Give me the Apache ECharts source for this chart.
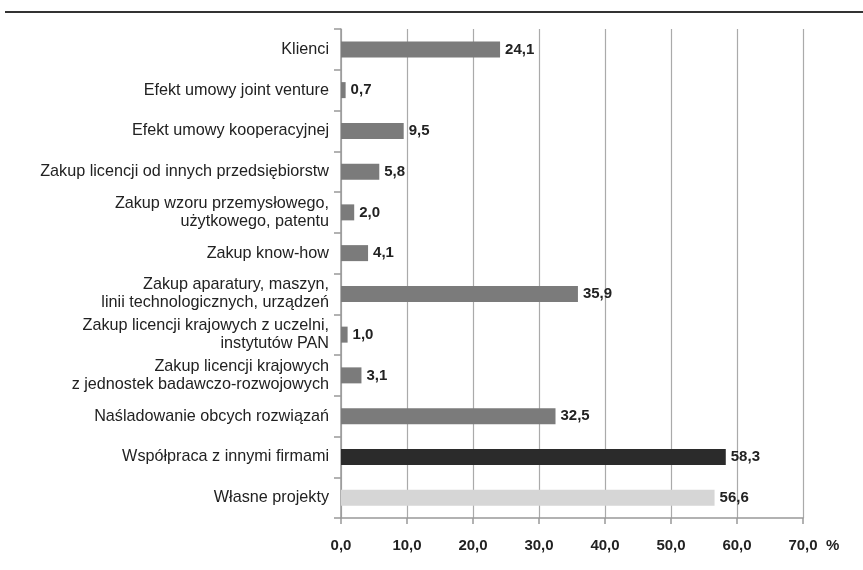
<!DOCTYPE html>
<html>
<head>
<meta charset="utf-8">
<script src="https://cdn.jsdelivr.net/npm/echarts@6/dist/echarts.min.js"></script>
<style>
  html, body { margin: 0; padding: 0; background: #fff; }
  #chart { width: 863px; height: 570px; }
</style>
</head>
<body>
<div id="chart"></div>
<script>
// Źródła innowacji – odsetek przedsiębiorstw (%)
const categories = [
  'Klienci',
  'Efekt umowy joint venture',
  'Efekt umowy kooperacyjnej',
  'Zakup licencji od innych przedsiębiorstw',
  'Zakup wzoru przemysłowego,\nużytkowego, patentu',
  'Zakup know-how',
  'Zakup aparatury, maszyn,\nlinii technologicznych, urządzeń',
  'Zakup licencji krajowych z uczelni,\ninstytutów PAN',
  'Zakup licencji krajowych\nz jednostek badawczo-rozwojowych',
  'Naśladowanie obcych rozwiązań',
  'Współpraca z innymi firmami',
  'Własne projekty'
];
const values = [24.1, 0.7, 9.5, 5.8, 2.0, 4.1, 35.9, 1.0, 3.1, 32.5, 58.3, 56.6];
const barColors = ['#7b7b7b', '#7b7b7b', '#7b7b7b', '#7b7b7b', '#7b7b7b', '#7b7b7b',
                   '#7b7b7b', '#7b7b7b', '#7b7b7b', '#7b7b7b', '#2b2b2b', '#d6d6d6'];
const xTicks = { min: 0, max: 70, interval: 10 };

const fmt = v => v.toFixed(1).replace('.', ',');
const font = '"Liberation Sans", Arial, Helvetica, sans-serif';

const chart = echarts.init(document.getElementById('chart'));
chart.setOption({
  animation: false,
  backgroundColor: '#fff',
  grid: { left: 341, right: 60, top: 29, bottom: 52 },
  graphic: [{
    type: 'line',
    shape: { x1: 5, y1: 12, x2: 863, y2: 12 },
    style: { stroke: '#333', lineWidth: 2 }
  }],
  xAxis: {
    type: 'value',
    min: xTicks.min, max: xTicks.max, interval: xTicks.interval,
    name: '%',
    nameLocation: 'end',
    nameGap: 23,
    nameTextStyle: { color: '#222', fontFamily: font, fontSize: 15, fontWeight: 'bold',
                     verticalAlign: 'top', padding: [20, 0, 0, 0] },
    axisLine: { show: true, lineStyle: { color: '#999', width: 1.5 } },
    axisTick: { show: true, length: 6, lineStyle: { color: '#999', width: 1.5 } },
    axisLabel: { margin: 20, color: '#222', fontFamily: font, fontSize: 15, fontWeight: 'bold',
                 formatter: v => fmt(v) },
    splitLine: { show: true, lineStyle: { color: '#aaa', width: 1.2 } }
  },
  yAxis: {
    type: 'category',
    inverse: true,
    data: categories,
    axisLine: { show: true, lineStyle: { color: '#999', width: 1.5 } },
    axisTick: { show: true, length: 7, lineStyle: { color: '#999', width: 1.5 } },
    axisLabel: { margin: 12, color: '#222', fontFamily: font, fontSize: 16.2, lineHeight: 18, align: 'right' }
  },
  series: [{
    type: 'bar',
    barWidth: 16,
    data: values.map((v, i) => ({ value: v, itemStyle: { color: barColors[i] } })),
    label: {
      show: true,
      position: 'right',
      distance: 5,
      color: '#222',
      fontFamily: font,
      fontSize: 15,
      fontWeight: 'bold',
      formatter: p => fmt(p.value)
    }
  }]
});
</script>
</body>
</html>
